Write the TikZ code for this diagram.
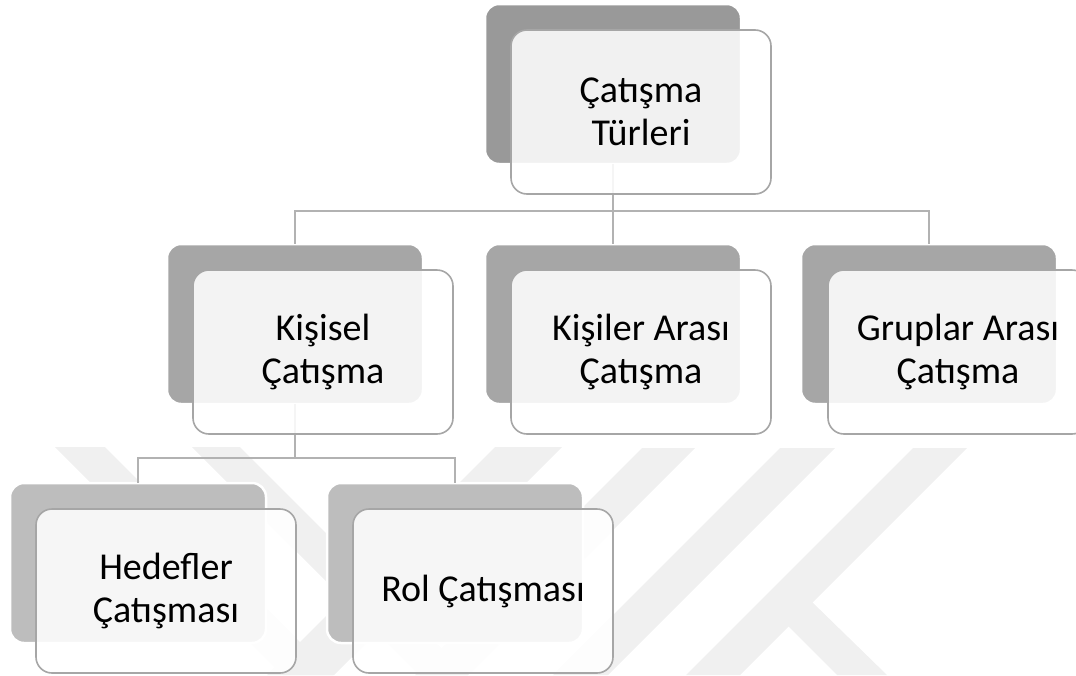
\documentclass[tikz,border=0pt]{standalone}
\usepackage{fontspec}
\setmainfont{Carlito}

\tikzset{
  backbox/.style={draw=white, line width=2.5pt, rounded corners=14pt, anchor=north west,
    minimum width=256pt, minimum height=160pt, inner sep=0pt, outer sep=0pt},
  frontbox/.style={draw=black!35, line width=1.6pt, fill=white, fill opacity=0.87, text opacity=1,
    rounded corners=16pt, anchor=north west, minimum width=260pt, minimum height=164pt,
    inner sep=0pt, outer sep=0pt, align=center, font=\fontsize{38}{43}\selectfont},
  link/.style={draw=black!30, line width=1.8pt},
  wband/.style={fill=black!6, draw=none}
}

\begin{document}
\begin{tikzpicture}[x=1pt, y=-1pt]
    \useasboundingbox (0,0) rectangle (1076,675);
    % faint watermark
    \fill[wband] (55,447) -- (105,447) -- (333,675) -- (283,675) -- cycle;
    \fill[wband] (192,447) -- (240,447) -- (468,675) -- (420,675) -- cycle;
    \fill[wband] (495,447) -- (562,447) -- (334,675) -- (267,675) -- cycle;
    \fill[wband] (642,448) -- (695,448) -- (468,675) -- (415,675) -- cycle;
    \fill[wband] (780,448) -- (835,448) -- (608,675) -- (553,675) -- cycle;
    \fill[wband] (913,448) -- (967,448) -- (740,675) -- (686,675) -- cycle;
    \fill[wband] (810,600) -- (887,675) -- (837,675) -- (787,625) -- cycle;

    % back boxes
    \node[backbox, fill=black!40] (turlerb) at (485,4) {};
    \node[backbox, fill=black!35] (kisiselb) at (167,244) {};
    \node[backbox, fill=black!35] (kisilerb) at (485,244) {};
    \node[backbox, fill=black!35] (gruplarb) at (801,244) {};
    \node[backbox, fill=black!26] (hedeflerb) at (10,483) {};
    \node[backbox, fill=black!26] (rolb) at (327,483) {};

    % connectors
    \draw[link] (turlerb.south) -- ++(0,47) coordinate (hubtop);
    \draw[link] (hubtop) -| (kisiselb.north);
    \draw[link] (hubtop) -- (kisilerb.north);
    \draw[link] (hubtop) -| (gruplarb.north);
    \draw[link] (kisiselb.south) -- ++(0,54) coordinate (hubkisisel);
    \draw[link] (hubkisisel) -| (hedeflerb.north);
    \draw[link] (hubkisisel) -| (rolb.north);

    % front boxes
    \node[frontbox] (turler) at (511,30) {Çatışma\\Türleri};
    \node[frontbox] (kisisel) at (193,270) {Kişisel\\Çatışma};
    \node[frontbox] (kisiler) at (511,270) {Kişiler Arası\\Çatışma};
    \node[frontbox] (gruplar) at (828,270) {Gruplar Arası\\Çatışma};
    \node[frontbox] (hedefler) at (36,509) {Hedefler\\Çatışması};
    \node[frontbox] (rol) at (353,509) {Rol Çatışması};
\end{tikzpicture}
\end{document}
